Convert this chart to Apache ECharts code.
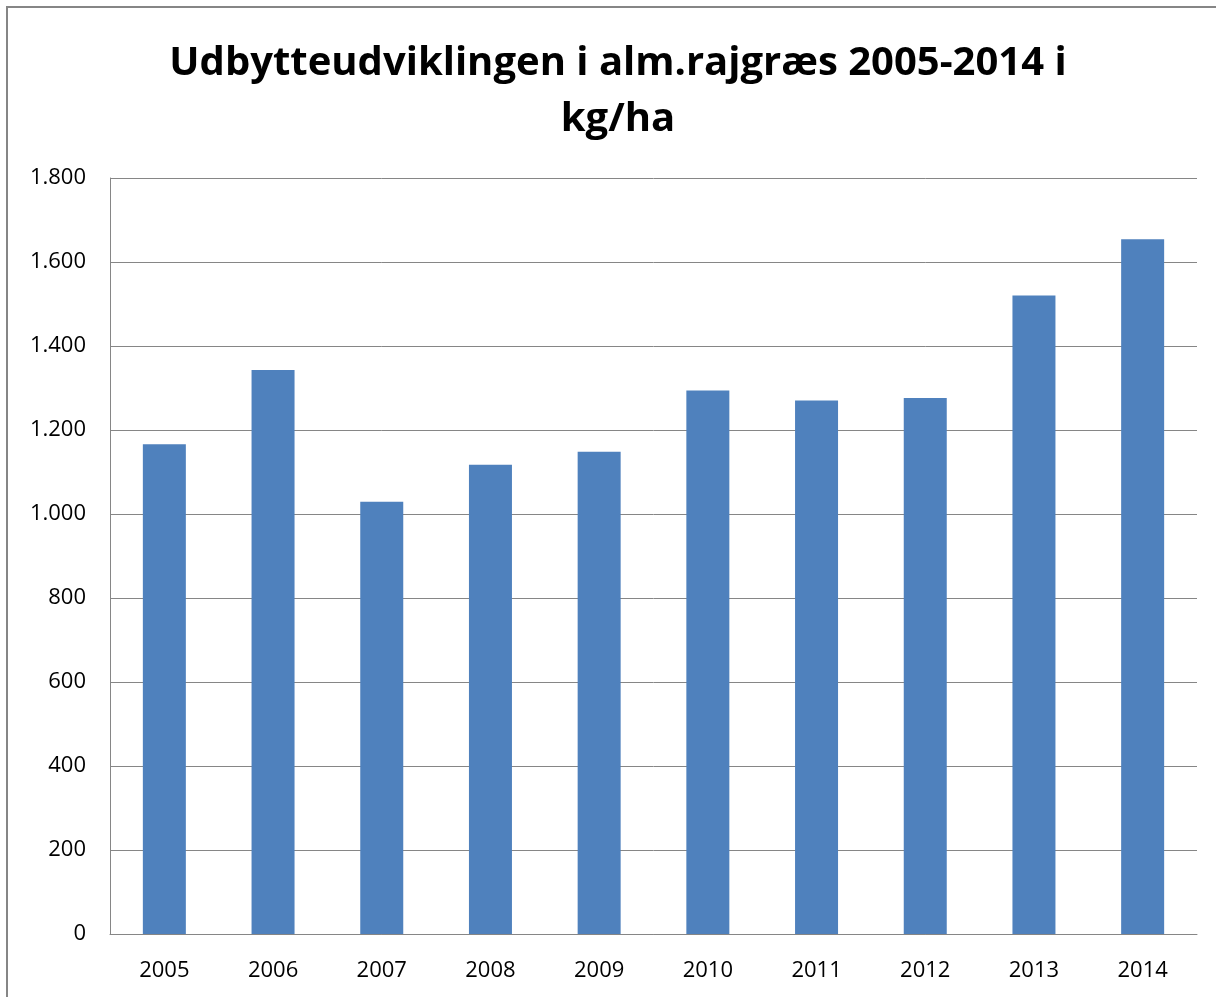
<!DOCTYPE html>
<html><head><meta charset="utf-8">
<script src="https://cdn.jsdelivr.net/npm/echarts@6/dist/echarts.min.js"></script>
<style>html,body{margin:0;padding:0;background:#fff;}#c{width:1216px;height:997px;}</style>
</head><body><div id="c"></div>
<script>
const titleText = 'Udbytteudviklingen i alm.rajgræs 2005-2014 i\nkg/ha';
const categories = ['2005','2006','2007','2008','2009','2010','2011','2012','2013','2014'];
const yields = [1166, 1343, 1029, 1117, 1148, 1294, 1270, 1276, 1520, 1654];
const yMin = 0, yMax = 1800, yStep = 200;

const chart = echarts.init(document.getElementById('c'), null, {renderer:'canvas'});
const labelFont = "'Liberation Sans Narrow','Open Sans',sans-serif";
chart.setOption({
  animation:false,
  backgroundColor:'#fff',
  graphic:[{type:'rect', shape:{x:7,y:7,width:1300,height:1100}, style:{fill:'none', stroke:'#868686', lineWidth:2}, silent:true}],
  title:{text:titleText, left:618, textAlign:'center', top:36, padding:0,
    textStyle:{fontFamily:labelFont, fontWeight:'bold', fontSize:40, lineHeight:56, color:'#000'}},
  grid:{left:110, right:19, top:178, bottom:63, containLabel:false},
  xAxis:{type:'category', data:categories,
    axisLine:{show:true, lineStyle:{color:'#868686', width:1}},
    axisTick:{show:false},
    axisLabel:{color:'#000', fontSize:22, fontFamily:labelFont, margin:26}},
  yAxis:{type:'value', min:yMin, max:yMax, interval:yStep,
    axisLine:{show:true, lineStyle:{color:'#868686', width:1}},
    axisTick:{show:false},
    splitLine:{lineStyle:{color:'#868686', width:1}},
    axisLabel:{color:'#000', fontSize:22, fontFamily:labelFont, margin:24,
      formatter:v=>String(v).replace(/\B(?=(\d{3})+(?!\d))/g,'.')}},
  series:[{type:'bar', data:yields, barWidth:43,
    itemStyle:{color:'#4F81BD'}}]
});
</script></body></html>
